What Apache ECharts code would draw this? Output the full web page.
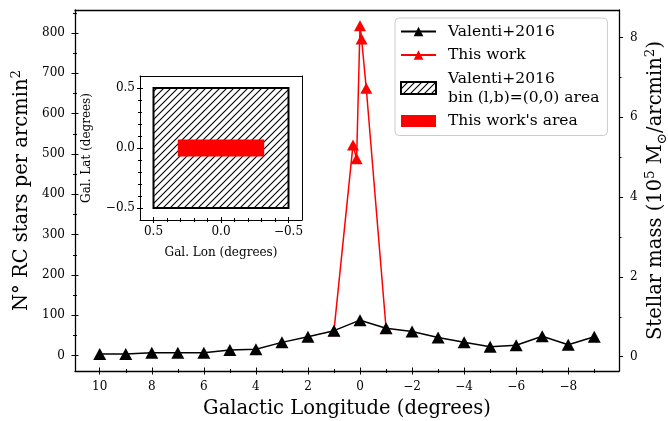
<!DOCTYPE html>
<html>
<head>
<meta charset="utf-8">
<script src="https://cdn.jsdelivr.net/npm/echarts@6/dist/echarts.min.js"></script>
<style>
html, body { margin: 0; padding: 0; background: #fff; }
#main { width: 668px; height: 421px; }
</style>
</head>
<body>
<div id="main"></div>
<script>
// Valenti+2016 bins (1 deg steps)
const lonValenti = [10, 9, 8, 7, 6, 5, 4, 3, 2, 1, 0, -1, -2, -3, -4, -5, -6, -7, -8, -9];
const nValenti = [4, 4, 7, 7, 7.5, 14, 16, 33, 47, 62, 88, 68, 60, 45, 33, 22, 26, 48, 27, 47];

// this work
const lonThisWork = [1, 0.27, 0.13, 0, -0.06, -0.24, -1];
const nThisWork = [62, 522, 488, 818, 785, 663, 68];

// ticks
const lonTicks = [10, 8, 6, 4, 2, 0, -2, -4, -6, -8];
const lonMinor = [9, 7, 5, 3, 1, -1, -3, -5, -7, -9];
const nTicks = [0, 100, 200, 300, 400, 500, 600, 700, 800];
const nMinor = [50, 150, 250, 350, 450, 550, 650, 750, 850];
const massTicks = [0, 2, 4, 6, 8];
const massMinor = [1, 3, 5, 7];

// inset: areas on the sky
const binLon = [0.5, -0.5];
const binLat = [-0.5, 0.5];
const areaLon = [0.32, -0.32];
const areaLat = [-0.07, 0.07];
const insetTicks = [0.5, 0, -0.5];
const insetMinor = [0.4, 0.3, 0.2, 0.1, -0.1, -0.2, -0.3, -0.4];

const FONT = 'DejaVu Serif';
const BIN_NAME = 'Valenti+2016\nbin (l,b)=(0,0) area';
const AREA_NAME = "This work's area";

function minus(v, d) {
  let s = d != null ? Math.abs(v).toFixed(d) : String(Math.abs(v));
  return v < 0 ? '\u2212' + s : s;
}

// hatch pattern "///"
function makeHatch() {
  const s = 7;
  const c = document.createElement('canvas');
  c.width = s; c.height = s;
  const g = c.getContext('2d');
  g.fillStyle = '#fff';
  g.fillRect(0, 0, s, s);
  g.strokeStyle = '#000';
  g.lineWidth = 1.1;
  g.beginPath();
  g.moveTo(-1, s + 1); g.lineTo(s + 1, -1);
  g.moveTo(-1, 1); g.lineTo(1, -1);
  g.moveTo(s - 1, s + 1); g.lineTo(s + 1, s - 1);
  g.stroke();
  return { image: c, repeat: 'repeat' };
}
const hatch = makeHatch();

function ax(common, opts) {
  return Object.assign({
    type: 'value',
    splitLine: { show: false },
    axisLine: { show: false, onZero: false },
    axisLabel: { show: false },
    axisTick: { show: false }
  }, common, opts);
}
function ticks(vals, len, inside) {
  return { show: true, customValues: vals, length: len, inside: inside, lineStyle: { color: '#000', width: 1 } };
}
function line(w) {
  return { show: true, onZero: false, lineStyle: { color: '#000', width: w } };
}
function labels(vals, fmt, margin) {
  return { show: true, customValues: vals, formatter: fmt, margin: margin, fontFamily: FONT, fontSize: 12, color: '#000' };
}

// title text with super/subscripts
const titleRich = {
  a: { fontFamily: FONT, fontSize: 19.5, lineHeight: 26, color: '#000' },
  sup: { fontFamily: FONT, fontSize: 13.5, lineHeight: 14, verticalAlign: 'top', color: '#000' },
  sub: { fontFamily: FONT, fontSize: 13.5, lineHeight: 14, verticalAlign: 'bottom', color: '#000' }
};

const mx = { gridIndex: 0, position: 'bottom', min: -9.95, max: 10.95, inverse: true };
const my = { gridIndex: 0, position: 'left', min: -38, max: 857 };
const mr = { gridIndex: 0, position: 'right', min: -0.36, max: 8.69 };
const ix = { gridIndex: 1, position: 'bottom', min: -0.6, max: 0.6, inverse: true };
const iy = { gridIndex: 1, position: 'left', min: -0.6, max: 0.6 };

const xAxis = [
  ax(mx, {
    axisLine: line(1.3), axisTick: ticks(lonTicks, 3.5, false),
    axisLabel: labels(lonTicks, v => minus(v), 10),
    name: 'Galactic Longitude (degrees)', nameLocation: 'middle', nameGap: 28,
    nameTextStyle: { fontFamily: FONT, fontSize: 19.5, color: '#000' }
  }),
  ax(mx, { axisTick: ticks(lonTicks, 3.5, true) }),
  ax(mx, { axisTick: ticks(lonMinor, 2, false) }),
  ax(mx, { axisTick: ticks(lonMinor, 2, true) }),
  ax(Object.assign({}, mx, { position: 'top' }), { axisLine: line(1.3) }),
  // inset
  ax(ix, {
    axisLine: line(1), axisTick: ticks(insetTicks, 3, false),
    axisLabel: labels(insetTicks, v => minus(v, 1), 6),
    name: 'Gal. Lon (degrees)', nameLocation: 'middle', nameGap: 27,
    nameTextStyle: { fontFamily: FONT, fontSize: 12, color: '#000' }
  }),
  ax(ix, { axisTick: ticks(insetTicks, 3, true) }),
  ax(ix, { axisTick: ticks(insetMinor, 2, false) }),
  ax(ix, { axisTick: ticks(insetMinor, 2, true) }),
  ax(Object.assign({}, ix, { position: 'top' }), { axisLine: line(1) })
];

const yAxis = [
  ax(my, {
    axisLine: line(1.3), axisTick: ticks(nTicks, 3.5, false),
    axisLabel: labels(nTicks, v => minus(v), 10),
    name: '{a|N\u00b0 RC stars per arcmin}{sup|2}', nameLocation: 'middle', nameGap: 40,
    nameMoveOverlap: false,
    nameTextStyle: { rich: titleRich }
  }),
  ax(my, { axisTick: ticks(nTicks, 3.5, true) }),
  ax(my, { axisTick: ticks(nMinor, 2, false) }),
  ax(my, { axisTick: ticks(nMinor, 2, true) }),
  ax(mr, {
    axisLine: line(1.3), axisTick: ticks(massTicks, 4, false),
    axisLabel: labels(massTicks, v => minus(v), 11),
    name: '{a|Stellar mass (10}{sup|5}{a| M}{sub|\u2299}{a|/arcmin}{sup|2}{a|)}',
    nameLocation: 'middle', nameGap: 24, nameMoveOverlap: false,
    nameTextStyle: { rich: titleRich }
  }),
  ax(mr, { axisTick: ticks(massMinor, 2.5, false) }),
  // inset
  ax(iy, {
    axisLine: line(1), axisTick: ticks(insetTicks, 3, false),
    axisLabel: labels(insetTicks, v => minus(v, 1), 5),
    name: 'Gal. Lat (degrees)', nameLocation: 'middle', nameGap: 47,
    nameTextStyle: { fontFamily: FONT, fontSize: 12, color: '#000' }
  }),
  ax(iy, { axisTick: ticks(insetTicks, 3, true) }),
  ax(iy, { axisTick: ticks(insetMinor, 2, false) }),
  ax(iy, { axisTick: ticks(insetMinor, 2, true) }),
  ax(Object.assign({}, iy, { position: 'right' }), { axisLine: line(1) })
];

function rectItem(fill, stroke, lw) {
  return function (params, api) {
    const p1 = api.coord([api.value(0), api.value(1)]);
    const p2 = api.coord([api.value(2), api.value(3)]);
    return {
      type: 'rect',
      shape: {
        x: Math.min(p1[0], p2[0]), y: Math.min(p1[1], p2[1]),
        width: Math.abs(p2[0] - p1[0]), height: Math.abs(p2[1] - p1[1])
      },
      style: { fill: fill, stroke: stroke, lineWidth: lw }
    };
  };
}

const chart = echarts.init(document.getElementById('main'), null, { renderer: 'canvas' });

chart.setOption({
  animation: false,
  backgroundColor: '#fff',
  textStyle: { fontFamily: FONT },
  grid: [
    { left: 75, top: 10, width: 544, height: 361, outerBoundsMode: 'none', containLabel: false },
    { left: 140, top: 76, width: 162, height: 144, outerBoundsMode: 'none', containLabel: false }
  ],
  xAxis: xAxis,
  yAxis: yAxis,
  legend: {
    orient: 'vertical', left: 395, top: 18,
    itemWidth: 35, itemHeight: 12, itemGap: 4.5,
    padding: [4, 8, 5, 5],
    backgroundColor: 'rgba(255,255,255,0.8)', borderColor: '#ccc', borderWidth: 1, borderRadius: 4,
    selectedMode: false,
    textStyle: { fontFamily: FONT, fontSize: 15.5, color: '#000', lineHeight: 19, padding: [0, 0, 0, 7] },
    data: [
      { name: 'Valenti+2016' },
      { name: 'This work' },
      { name: BIN_NAME, icon: 'rect', itemStyle: { color: hatch, borderColor: '#000', borderWidth: 2 } },
      { name: AREA_NAME, icon: 'rect', itemStyle: { color: '#ff0000', borderWidth: 0 } }
    ]
  },
  series: [
    {
      name: 'This work', type: 'line', xAxisIndex: 0, yAxisIndex: 0,
      data: lonThisWork.map((l, i) => [l, nThisWork[i]]),
      symbol: 'triangle', symbolSize: [12, 11],
      color: '#ff0000',
      lineStyle: { color: '#ff0000', width: 1.5 },
      itemStyle: { color: '#ff0000' }
    },
    {
      name: 'Valenti+2016', type: 'line', xAxisIndex: 0, yAxisIndex: 0,
      data: lonValenti.map((l, i) => [l, nValenti[i]]),
      symbol: 'triangle', symbolSize: [13, 12],
      color: '#000',
      lineStyle: { color: '#000', width: 1.5 },
      itemStyle: { color: '#000' }
    },
    {
      name: BIN_NAME, type: 'custom', xAxisIndex: 5, yAxisIndex: 6, z: 6,
      itemStyle: { color: hatch, borderColor: '#000', borderWidth: 2 },
      renderItem: rectItem(hatch, '#000', 2),
      data: [[binLon[0], binLat[0], binLon[1], binLat[1]]]
    },
    {
      name: AREA_NAME, type: 'custom', xAxisIndex: 5, yAxisIndex: 6, z: 7,
      itemStyle: { color: '#ff0000' },
      renderItem: rectItem('#ff0000', null, 0),
      data: [[areaLon[0], areaLat[0], areaLon[1], areaLat[1]]]
    }
  ]
});
</script>
</body>
</html>
